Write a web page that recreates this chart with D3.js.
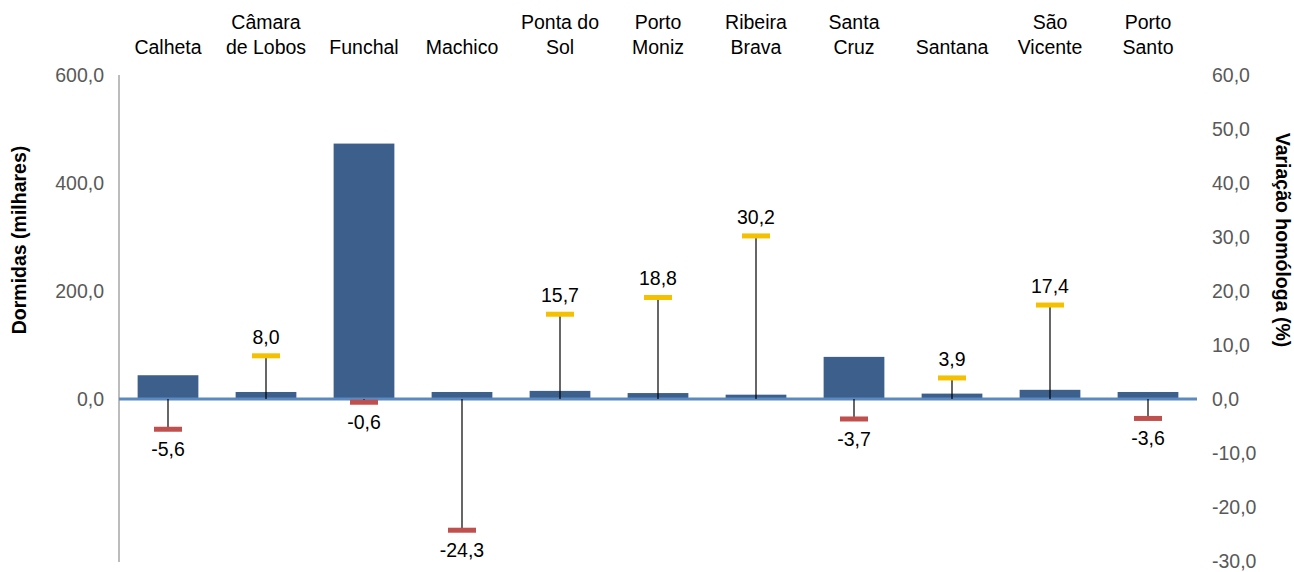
<!DOCTYPE html>
<html>
<head>
<meta charset="utf-8">
<script src="https://cdn.jsdelivr.net/npm/d3@7"></script>
<style>
  body { margin: 0; background: #fff; }
  text { font-family: "Liberation Sans", Arial, sans-serif; }
</style>
</head>
<body>
<svg id="chart"></svg>
<script>
// Chart data
const municipios = [
    ["Calheta"], ["Câmara", "de Lobos"], ["Funchal"], ["Machico"], ["Ponta do", "Sol"],
    ["Porto", "Moniz"], ["Ribeira", "Brava"], ["Santa", "Cruz"], ["Santana"], ["São", "Vicente"], ["Porto", "Santo"]
];
const dormidas = [44, 13, 473, 13, 15, 11, 8, 78, 10, 17, 13];
const variacao = [-5.6, 8.0, -0.6, -24.3, 15.7, 18.8, 30.2, -3.7, 3.9, 17.4, -3.6];
const leftTicks = [0, 200, 400, 600];
const rightTicks = [-30, -20, -10, 0, 10, 20, 30, 40, 50, 60];

const width = 1294, height = 572;
const fs = 19.5;
const svg = d3.select("#chart").attr("width", width).attr("height", height);

const fmt = v => d3.format(".1f")(v).replace(".", ",").replace("−", "-");

// Scales
const x = d3.scaleBand().domain(d3.range(municipios.length)).range([119, 1197]).paddingInner(0.38).paddingOuter(0.19);
const yL = d3.scaleLinear().domain([-300, 600]).range([561, 75]);
const yR = d3.scaleLinear().domain([-30, 60]).range([561, 75]);
const cx = i => x(i) + x.bandwidth() / 2;

// Left axis line
svg.append("line")
    .attr("x1", 119).attr("x2", 119)
    .attr("y1", 75).attr("y2", 562)
    .attr("stroke", "#a6a6a6").attr("stroke-width", 1.5);

// Left tick labels
svg.append("g").selectAll("text")
    .data(leftTicks)
    .enter().append("text")
    .attr("x", 104).attr("y", d => yL(d))
    .attr("dy", "0.35em")
    .attr("text-anchor", "end")
    .attr("font-size", fs).attr("fill", "#595959")
    .text(fmt);

// Right tick labels
svg.append("g").selectAll("text")
    .data(rightTicks)
    .enter().append("text")
    .attr("x", 1212).attr("y", d => yR(d))
    .attr("dy", "0.35em")
    .attr("font-size", fs).attr("fill", "#595959")
    .text(fmt);

// Axis titles
svg.append("text")
    .attr("transform", `translate(26,${240}) rotate(-90)`)
    .attr("text-anchor", "middle")
    .attr("font-size", fs).attr("font-weight", "bold")
    .text("Dormidas (milhares)");

svg.append("text")
    .attr("transform", `translate(1276,${240}) rotate(90)`)
    .attr("text-anchor", "middle")
    .attr("font-size", fs).attr("font-weight", "bold")
    .text("Variação homóloga (%)");

// Category labels (top)
const cat = svg.append("g").selectAll("text")
    .data(municipios)
    .enter().append("text")
    .attr("text-anchor", "middle")
    .attr("font-size", fs).attr("fill", "#000");
cat.each(function(d, i) {
    const t = d3.select(this);
    const y0 = d.length === 2 ? 22 : 47;
    d.forEach((line, j) => {
        t.append("tspan").attr("x", cx(i)).attr("y", y0 + j * 25).attr("dy", "0.35em").text(line);
    });
});

// Bars
svg.append("g")
    .selectAll("rect")
    .data(dormidas)
    .enter().append("rect")
    .attr("x", (d, i) => x(i))
    .attr("width", x.bandwidth())
    .attr("y", d => yL(d))
    .attr("height", d => yL(0) - yL(d))
    .attr("fill", "#3d5f8b");

// Zero line
svg.append("line")
    .attr("x1", 119).attr("x2", 1197)
    .attr("y1", yL(0)).attr("y2", yL(0))
    .attr("stroke", "#5b8ac0").attr("stroke-width", 3);

// Variation stems
svg.append("g")
    .selectAll("line")
    .data(variacao)
    .enter().append("line")
    .attr("x1", (d, i) => cx(i)).attr("x2", (d, i) => cx(i))
    .attr("y1", yR(0)).attr("y2", d => yR(d))
    .attr("stroke", "#000").attr("stroke-width", 1.2);

// Variation markers
svg.append("g")
    .selectAll("rect")
    .data(variacao)
    .enter().append("rect")
    .attr("x", (d, i) => cx(i) - 14)
    .attr("y", d => yR(d) - 2.5)
    .attr("width", 28).attr("height", 5)
    .attr("fill", d => d >= 0 ? "#f5c000" : "#c0504d");

// Variation labels
svg.append("g")
    .selectAll("text")
    .data(variacao)
    .enter().append("text")
    .attr("x", (d, i) => cx(i))
    .attr("y", d => d >= 0 ? yR(d) - 19 : yR(d) + 20)
    .attr("dy", "0.35em")
    .attr("text-anchor", "middle")
    .attr("font-size", fs).attr("fill", "#000")
    .text(fmt);
</script>
</body>
</html>
